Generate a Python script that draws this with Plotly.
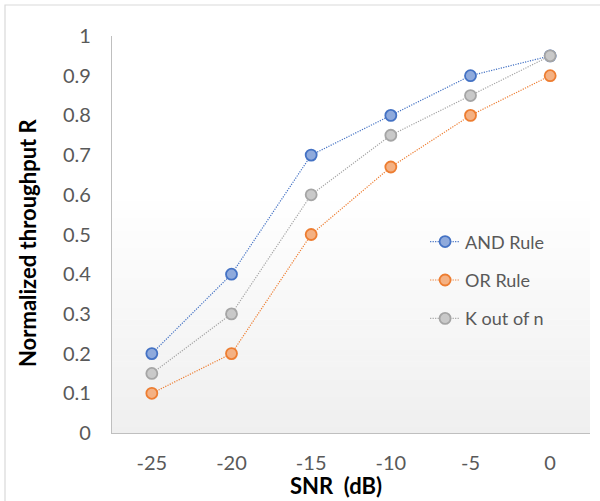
import plotly.graph_objects as go

snr = ["-25", "-20", "-15", "-10", "-5", "0"]
and_rule = [0.2, 0.4, 0.7, 0.8, 0.9, 0.95]
or_rule = [0.1, 0.2, 0.5, 0.67, 0.8, 0.9]
k_out_n = [0.15, 0.3, 0.6, 0.75, 0.85, 0.95]

series = [
    ("AND Rule", and_rule, "#4472C4", "#8FAADC"),
    ("OR Rule", or_rule, "#ED7D31", "#F4B183"),
    ("K out of n", k_out_n, "#A5A5A5", "#C9C9C9"),
]

fig = go.Figure()
for i, (name, vals, line_c, fill_c) in enumerate(series):
    fig.add_trace(go.Scatter(
        x=snr, y=vals, name=name, mode="lines+markers",
        line=dict(color=line_c, width=1.2, dash="1.2px,1.3px"),
        marker=dict(size=11, color=fill_c, line=dict(color=line_c, width=1.8)),
        legendgroup=f"g{i}",
    ))

# gradient background in plot area
shapes = []
n = 40
y_start = 0.6
for k in range(n):
    y0 = y_start * k / n
    y1 = y_start * (k + 1) / n
    t = 1 - (k + 0.5) / n
    c = int(round(255 - t * (255 - 239)))
    shapes.append(dict(type="rect", xref="x domain", yref="y domain",
                       x0=0, x1=1, y0=y0, y1=y1 + 0.001, fillcolor=f"rgb({c},{c},{c})",
                       line=dict(width=0), layer="below"))
# outer chart border
shapes.append(dict(type="rect", xref="paper", yref="paper",
                   x0=(5 - 112) / 478, x1=1.05, y0=-0.3, y1=1 + 31 / 397,
                   line=dict(color="#D9D9D9", width=1.2), fillcolor="rgba(0,0,0,0)"))

title_font = dict(size=22, color="black", family="Lato, sans-serif", weight="bold")

fig.update_layout(
    width=600, height=501,
    margin=dict(l=112, r=10, t=36, b=68),
    paper_bgcolor="white", plot_bgcolor="rgba(0,0,0,0)",
    font=dict(family="Lato, sans-serif", size=18, color="#595959"),
    shapes=shapes,
    showlegend=True,
    legend=dict(x=0.655, y=0.528, xanchor="left", yanchor="top",
                bgcolor="rgba(0,0,0,0)", tracegroupgap=12,
                font=dict(size=18, color="#595959"), traceorder="grouped"),
    annotations=[
        dict(text="SNR  (dB)", xref="paper", yref="paper",
             x=(336 - 112) / 478, y=(433 - 485) / 397,
             xanchor="center", yanchor="middle", showarrow=False, font=title_font),
        dict(text="Normalized throughput R", xref="paper", yref="paper",
             x=(27 - 112) / 478, y=(433 - 243) / 397, textangle=-90,
             xanchor="center", yanchor="middle", showarrow=False, font=title_font),
    ],
    xaxis=dict(
        type="category", range=[-0.5, 5.5],
        showline=True, linecolor="#BFBFBF", linewidth=1.3,
        showgrid=False, zeroline=False, ticks="",
        tickfont=dict(size=20, color="#595959"),
        ticklabelstandoff=12,
    ),
    yaxis=dict(
        range=[0, 1], dtick=0.1,
        showline=True, linecolor="#BFBFBF", linewidth=1.3,
        showgrid=False, zeroline=False, ticks="",
        tickfont=dict(size=20, color="#595959"),
        ticklabelstandoff=16,
        tickformat="~g",
    ),
)

fig.write_html("out.html")
